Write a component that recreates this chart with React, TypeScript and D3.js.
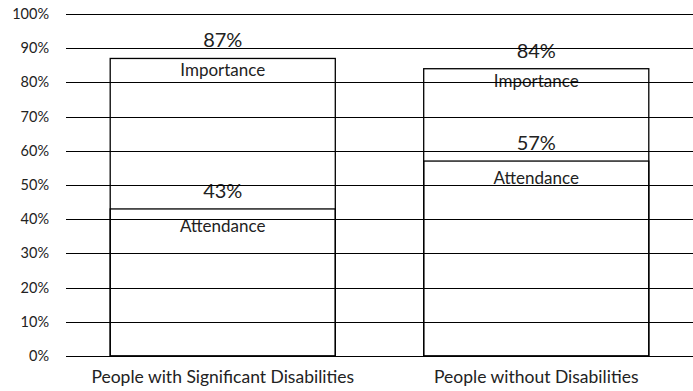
import React from "react";
import * as d3 from "d3";

const categories = ["People with Significant Disabilities", "People without Disabilities"];
const importance = [87, 84];
const attendance = [43, 57];
const yTicks = [0, 10, 20, 30, 40, 50, 60, 70, 80, 90, 100];

const W = 693;
const H = 391;
const left = 66;
const right = 693;
const top = 14;
const bottom = 356;
const font = "Lato, 'Open Sans', sans-serif";
const textColor = "#222";

export default function App() {
  const x = d3.scaleBand<string>().domain(categories).range([left, right]).paddingInner(0.282).paddingOuter(0.141);
  const y = d3.scaleLinear().domain([0, 100]).range([bottom, top]);
  const bw = x.bandwidth();

  return (
    <svg width={W} height={H} style={{ position: "absolute", left: 0, top: 0 }}>
      <rect x={0} y={0} width={W} height={H} fill="#fff" />
      {categories.map((c, i) => {
        const x0 = x(c)!;
        const cx = x0 + bw / 2;
        return (
          <g key={c}>
            <rect x={x0} y={y(importance[i])} width={bw} height={bottom - y(importance[i])} fill="none" stroke="#000" strokeWidth={1.3} />
            <rect x={x0} y={y(attendance[i])} width={bw} height={bottom - y(attendance[i])} fill="none" stroke="#000" strokeWidth={1.3} />
            <text x={cx} y={y(importance[i]) - 11} textAnchor="middle" fontFamily={font} fontSize={20} fill={textColor}>{importance[i]}%</text>
            <text x={cx} y={y(importance[i]) + 18} textAnchor="middle" fontFamily={font} fontSize={17} fill={textColor}>Importance</text>
            <text x={cx} y={y(attendance[i]) - 11} textAnchor="middle" fontFamily={font} fontSize={20} fill={textColor}>{attendance[i]}%</text>
            <text x={cx} y={y(attendance[i]) + 23} textAnchor="middle" fontFamily={font} fontSize={17} fill={textColor}>Attendance</text>
            <text x={cx} y={383} textAnchor="middle" fontFamily={font} fontSize={17.5} fill={textColor}>{c}</text>
          </g>
        );
      })}
      {yTicks.map((t) => (
        <g key={t}>
          <line x1={left} x2={right} y1={Math.round(y(t)) + 0.5} y2={Math.round(y(t)) + 0.5} stroke="#000" strokeWidth={1.2} />
          <text x={49} y={y(t) + 5} textAnchor="end" fontFamily={font} fontSize={14.5} fill={textColor}>{t}%</text>
        </g>
      ))}
    </svg>
  );
}
